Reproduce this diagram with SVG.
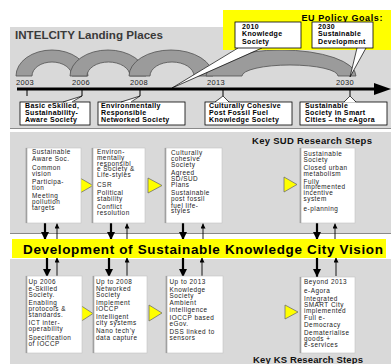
<svg xmlns="http://www.w3.org/2000/svg" width="391" height="364" viewBox="0 0 391 364">
  <style>
    .panel { fill: #d9d9d9; }
    .sep { stroke: #8a8a8a; stroke-width: 1; }
    .arc { fill: #9b9b9b; stroke: #505050; stroke-width: 0.8; }
    .lbox { fill: #ffffff; stroke: #000000; stroke-width: 0.8; }
    .ltext { font-family: "Liberation Sans", Arial, sans-serif; font-size: 7px; font-weight: bold; fill: #000; letter-spacing: 0.35px; }
    .year { font-family: "Liberation Sans", Arial, sans-serif; font-size: 7.5px; fill: #222; letter-spacing: 0.3px; }
    .step { fill: #ffffff; stroke: #c4c4c4; stroke-width: 0.6; }
    .shadow { stroke: #a0a0a0; stroke-width: 1.6; }
    .stext { font-family: "Liberation Sans", Arial, sans-serif; font-size: 6.4px; fill: #1a1a1a; letter-spacing: 0.5px; }
    .tri { fill: #ffff00; stroke: #707070; stroke-width: 0.8; stroke-linejoin: miter; }
    .heading { font-family: "Liberation Sans", Arial, sans-serif; font-size: 9.5px; font-weight: bold; fill: #111; }
    .down { stroke: #000; stroke-width: 2.2; marker-end: url(#headBig); }
    .up { stroke: #000; stroke-width: 0.9; marker-end: url(#headSmall); }
    .wedge { fill: #ffffff; stroke: none; }
    .wedgeEdge { fill: none; stroke: #000; stroke-width: 0.7; }
  </style>
  <defs>
    <marker id="headBig" markerUnits="userSpaceOnUse" markerWidth="9" markerHeight="8" refX="8" refY="4" orient="auto">
      <path d="M0,0 L8,4 L0,8 Z" fill="#000"/>
    </marker>
    <marker id="headSmall" markerUnits="userSpaceOnUse" markerWidth="6" markerHeight="5" refX="5" refY="2.5" orient="auto">
      <path d="M0,0 L5,2.5 L0,5 Z" fill="#000"/>
    </marker>
  </defs>

  <rect x="0" y="0" width="391" height="364" fill="#ffffff"/>

  <!-- panels -->
  <g id="panels">
    <rect class="panel" x="10" y="27" width="381" height="101"/>
    <line class="sep" x1="10" y1="128.5" x2="391" y2="128.5"/>
    <rect class="panel" x="10" y="132" width="381" height="101"/>
    <line class="sep" x1="10" y1="233.5" x2="391" y2="233.5"/>
    <rect class="panel" x="10" y="259" width="381" height="105"/>
  </g>

  <!-- title -->
  <text x="15" y="38.5" font-family="Liberation Sans, Arial, sans-serif" font-size="11" font-weight="bold" fill="#3a3a3a" textLength="148" lengthAdjust="spacingAndGlyphs">INTELCITY Landing Places</text>

  <!-- landing-place arcs -->
  <g id="arcs">
    <path class="arc" d="M16,76 A36,26 0 0 1 88,76 L72,76 A20,14 0 0 0 32,76 Z"/>
    <path class="arc" d="M70,76 A38,26 0 0 1 146,76 L130,76 A21.5,14 0 0 0 87,76 Z"/>
    <path class="arc" d="M129,76 A42,26 0 0 1 213,76 L194,76 A22,14 0 0 0 150,76 Z"/>
    <path class="arc" d="M206,76 A75,26 0 0 1 356,76 L338,76 A48,11 0 0 0 242,76 Z"/>
  </g>

  <!-- year labels -->
  <g id="years">
    <text class="year" x="16" y="85">2003</text>
    <text class="year" x="72" y="85">2006</text>
    <text class="year" x="130" y="85">2008</text>
    <text class="year" x="207" y="85">2013</text>
    <text class="year" x="336" y="85">2030</text>
  </g>

  <!-- EU policy goals -->
  <g id="eu-goals">
    <rect x="223" y="10" width="168" height="40" fill="#ffff00"/>
    <text x="383" y="20.5" text-anchor="end" font-family="Liberation Sans, Arial, sans-serif" font-size="9" font-weight="bold" fill="#000" letter-spacing="0.6">EU Policy Goals:</text>
  </g>

  <g id="connectors">
    <!-- timeline -->
    <line x1="17" y1="89" x2="376" y2="89" stroke="#000" stroke-width="3"/>
    <path d="M374,83 L391,89 L374,95 Z" fill="#000"/>
    <!-- ticks -->
    <g stroke="#000" stroke-width="1">
      <line x1="27" y1="89" x2="27" y2="96"/>
      <line x1="82" y1="89" x2="82" y2="96"/>
      <line x1="140" y1="89" x2="140" y2="96"/>
      <line x1="223" y1="89" x2="223" y2="96"/>
      <line x1="350" y1="89" x2="350" y2="96"/>
    </g>
    <!-- callouts from the goal boxes -->
    <path class="wedge" d="M238,47.5 L262,47.5 L172,88 Z"/>
    <path class="wedgeEdge" d="M238,48 L172,88 L262,48"/>
    <path class="wedge" d="M357,47.5 L366,47.5 L350,77 Z"/>
    <path class="wedgeEdge" d="M357,48 L350,77 L366,48"/>

    <!-- SUD steps to vision -->
    <line class="down" x1="45" y1="223" x2="45" y2="240"/>
    <line class="down" x1="111" y1="223" x2="111" y2="240"/>
    <line class="down" x1="183" y1="223" x2="183" y2="240"/>
    <line class="down" x1="317" y1="223" x2="317" y2="240"/>
    <line class="up" x1="57" y1="239" x2="57" y2="223.5"/>
    <line class="up" x1="127" y1="239" x2="127" y2="223.5"/>
    <line class="up" x1="203" y1="239" x2="203" y2="223.5"/>
    <line class="up" x1="335" y1="239" x2="335" y2="223.5"/>

    <!-- vision to KS steps -->
    <line class="down" x1="47" y1="258" x2="47" y2="277"/>
    <line class="down" x1="109" y1="258" x2="109" y2="277"/>
    <line class="down" x1="183" y1="258" x2="183" y2="277"/>
    <line class="down" x1="317" y1="258" x2="317" y2="277"/>
    <line class="up" x1="57" y1="276" x2="57" y2="257.5"/>
    <line class="up" x1="127" y1="276" x2="127" y2="257.5"/>
    <line class="up" x1="202" y1="276" x2="202" y2="257.5"/>
    <line class="up" x1="336" y1="276" x2="336" y2="257.5"/>

    <!-- step arrows -->
    <path class="tri" d="M80,178 L93,185.5 L80,193 Z"/>
    <path class="tri" d="M148,178 L162,185.5 L148,193 Z"/>
    <path class="tri" d="M284,177 L297,184.5 L284,192 Z"/>
    <path class="tri" d="M80,305 L93,313.5 L80,322 Z"/>
    <path class="tri" d="M149,305 L162,313 L149,321 Z"/>
    <path class="tri" d="M285,305 L298,312 L285,319 Z"/>
  </g>

  <!-- goal boxes -->
  <g id="goal-2010">
    <rect class="lbox" x="235" y="22" width="66" height="26"/>
    <text class="ltext" letter-spacing="0.6"><tspan x="242" y="29.2">2010</tspan><tspan x="242" y="36.4">Knowledge</tspan><tspan x="242" y="43.6">Society</tspan></text>
  </g>
  <g id="goal-2030">
    <rect class="lbox" x="312" y="22" width="61" height="26"/>
    <text class="ltext" letter-spacing="0.6"><tspan x="318" y="29.2">2030</tspan><tspan x="318" y="36.4">Sustainable</tspan><tspan x="318" y="43.6">Development</tspan></text>
  </g>

  <!-- landing places -->
  <g id="landing-1">
    <rect class="lbox" x="20" y="102" width="70" height="23"/>
    <path class="wedge" d="M63,102.6 L72,102.6 L82,96 Z"/>
    <path class="wedgeEdge" d="M63,102 L82,96 L72,102"/>
    <text class="ltext" letter-spacing="0.6"><tspan x="25" y="108.3">Basic eSkilled,</tspan><tspan x="25" y="115.3">Sustainability-</tspan><tspan x="25" y="122.3">Aware Society</tspan></text>
  </g>
  <g id="landing-2">
    <rect class="lbox" x="98" y="102" width="87" height="23"/>
    <path class="wedge" d="M121,102.6 L131,102.6 L140,96 Z"/>
    <path class="wedgeEdge" d="M121,102 L140,96 L131,102"/>
    <text class="ltext"><tspan x="101" y="108.3">Environmentally</tspan><tspan x="101" y="115.3">Responsible</tspan><tspan x="101" y="122.3">Networked Society</tspan></text>
  </g>
  <g id="landing-3">
    <rect class="lbox" x="205" y="102" width="87" height="23"/>
    <path class="wedge" d="M215,102.6 L229,102.6 L223,96 Z"/>
    <path class="wedgeEdge" d="M215,102 L223,96 L229,102"/>
    <text class="ltext"><tspan x="209" y="108.3">Culturally Cohesive</tspan><tspan x="209" y="115.3">Post Fossil Fuel</tspan><tspan x="209" y="122.3">Knowledge Society</tspan></text>
  </g>
  <g id="landing-4">
    <rect class="lbox" x="300" y="102" width="87" height="23"/>
    <path class="wedge" d="M344,102.6 L356,102.6 L350,96 Z"/>
    <path class="wedgeEdge" d="M344,102 L350,96 L356,102"/>
    <text class="ltext"><tspan x="305" y="108.3">Sustainable</tspan><tspan x="305" y="115.3">Society in Smart</tspan><tspan x="305" y="122.3">Cities – the eAgora</tspan></text>
  </g>

  <text class="heading" x="252" y="144" textLength="120" lengthAdjust="spacing">Key SUD Research Steps</text>

  <!-- SUD research steps -->
  <g id="sud-1">
    <rect class="step" x="26" y="148" width="55" height="75"/>
    <line class="shadow" x1="26.5" y1="148" x2="26.5" y2="223"/>
    <text class="stext"><tspan x="32" y="154">Sustainable</tspan><tspan x="32" y="160.5">Aware Soc.</tspan><tspan x="32" y="169.5">Common</tspan><tspan x="32" y="175.5">vision</tspan><tspan x="32" y="183.5">Participa-</tspan><tspan x="32" y="189.5">tion</tspan><tspan x="32" y="197.5">Meeting</tspan><tspan x="32" y="203.5">pollution</tspan><tspan x="32" y="209.5">targets</tspan></text>
  </g>
  <g id="sud-2">
    <rect class="step" x="92" y="148" width="53" height="75"/>
    <line class="shadow" x1="92.5" y1="148" x2="92.5" y2="223"/>
    <text class="stext"><tspan x="97" y="153.5">Environ-</tspan><tspan x="97" y="159.5">mentally</tspan><tspan x="97" y="165.5">responsibl</tspan><tspan x="97" y="171">e Society &amp;</tspan><tspan x="97" y="176.5">Life-styles</tspan><tspan x="97" y="186.5">CSR</tspan><tspan x="97" y="195">Political</tspan><tspan x="97" y="200.5">stability</tspan><tspan x="97" y="208.5">Conflict</tspan><tspan x="97" y="214.5">resolution</tspan></text>
  </g>
  <g id="sud-3">
    <rect class="step" x="165" y="148" width="57" height="75"/>
    <line class="shadow" x1="165.5" y1="148" x2="165.5" y2="223"/>
    <text class="stext"><tspan x="171" y="154.5">Culturally</tspan><tspan x="171" y="160.5">cohesive</tspan><tspan x="171" y="166.5">Society</tspan><tspan x="171" y="174.5">Agreed</tspan><tspan x="171" y="180.5">SD/SUD</tspan><tspan x="171" y="186.5">Plans</tspan><tspan x="171" y="195">Sustainable</tspan><tspan x="171" y="201">post fossil</tspan><tspan x="171" y="207.5">fuel life-</tspan><tspan x="171" y="213">styles</tspan></text>
  </g>
  <g id="sud-4">
    <rect class="step" x="300" y="148" width="55" height="75"/>
    <line class="shadow" x1="300.5" y1="148" x2="300.5" y2="223"/>
    <text class="stext"><tspan x="303.5" y="155.5">Sustainable</tspan><tspan x="303.5" y="161.5">Society</tspan><tspan x="303.5" y="169.5">Closed urban</tspan><tspan x="303.5" y="175.5">metabolism</tspan><tspan x="303.5" y="183.5">Fully</tspan><tspan x="303.5" y="189">implemented</tspan><tspan x="303.5" y="195">incentive</tspan><tspan x="303.5" y="201">system</tspan><tspan x="303.5" y="210.5">e-planning</tspan></text>
  </g>

  <!-- vision band -->
  <g id="vision">
    <rect x="12" y="239" width="374" height="19" fill="#ffff00"/>
    <text x="23" y="254" font-family="Liberation Sans, Arial, sans-serif" font-size="13.5" font-weight="bold" fill="#000" textLength="360" lengthAdjust="spacing">Development of Sustainable Knowledge City Vision</text>
  </g>

  <!-- KS research steps -->
  <g id="ks-1">
    <rect class="step" x="26" y="276" width="56" height="77"/>
    <line class="shadow" x1="26.5" y1="276" x2="26.5" y2="353"/>
    <text class="stext"><tspan x="28.5" y="284">Up 2006</tspan><tspan x="28.5" y="290.5">e-Skilled</tspan><tspan x="28.5" y="296.5">Society.</tspan><tspan x="28.5" y="305">Enabling</tspan><tspan x="28.5" y="310.5">protocols &amp;</tspan><tspan x="28.5" y="316.5">standards.</tspan><tspan x="28.5" y="325">ICT inter-</tspan><tspan x="28.5" y="330.5">operability</tspan><tspan x="28.5" y="339.5">Specification</tspan><tspan x="28.5" y="345.5">of IOCCP</tspan></text>
  </g>
  <g id="ks-2">
    <rect class="step" x="93" y="276" width="54" height="77"/>
    <line class="shadow" x1="93.5" y1="276" x2="93.5" y2="353"/>
    <text class="stext"><tspan x="96" y="284">Up to 2008</tspan><tspan x="96" y="290.5">Networked</tspan><tspan x="96" y="296.5">Society</tspan><tspan x="96" y="305">Implement</tspan><tspan x="96" y="310.5">IOCCP</tspan><tspan x="96" y="319">Intelligent</tspan><tspan x="96" y="324.5">city systems</tspan><tspan x="96" y="333">Nano tech’y</tspan><tspan x="96" y="339.5">data capture</tspan></text>
  </g>
  <g id="ks-3">
    <rect class="step" x="166" y="276" width="57" height="77"/>
    <line class="shadow" x1="166.5" y1="276" x2="166.5" y2="353"/>
    <text class="stext"><tspan x="169.5" y="284">Up to 2013</tspan><tspan x="169.5" y="291.5">Knowledge</tspan><tspan x="169.5" y="297.5">Society</tspan><tspan x="169.5" y="305">Ambient</tspan><tspan x="169.5" y="311.5">intelligence</tspan><tspan x="169.5" y="320">IOCCP based</tspan><tspan x="169.5" y="325.5">eGov.</tspan><tspan x="169.5" y="334">DSS linked to</tspan><tspan x="169.5" y="340">sensors</tspan></text>
  </g>
  <g id="ks-4">
    <rect class="step" x="300" y="277" width="55" height="76"/>
    <line class="shadow" x1="300.5" y1="277" x2="300.5" y2="353"/>
    <text class="stext"><tspan x="304" y="284">Beyond 2013</tspan><tspan x="304" y="292.5">e-Agora</tspan><tspan x="304" y="300.5">Integrated</tspan><tspan x="304" y="306.5">SMART City</tspan><tspan x="304" y="312.5">implemented</tspan><tspan x="304" y="320">Full e-</tspan><tspan x="304" y="326.5">Democracy</tspan><tspan x="304" y="335">Dematerialise</tspan><tspan x="304" y="340.5">goods +</tspan><tspan x="304" y="346.5">e-services</tspan></text>
  </g>

  <text class="heading" x="253" y="363" textLength="110" lengthAdjust="spacing">Key KS Research Steps</text>
</svg>
